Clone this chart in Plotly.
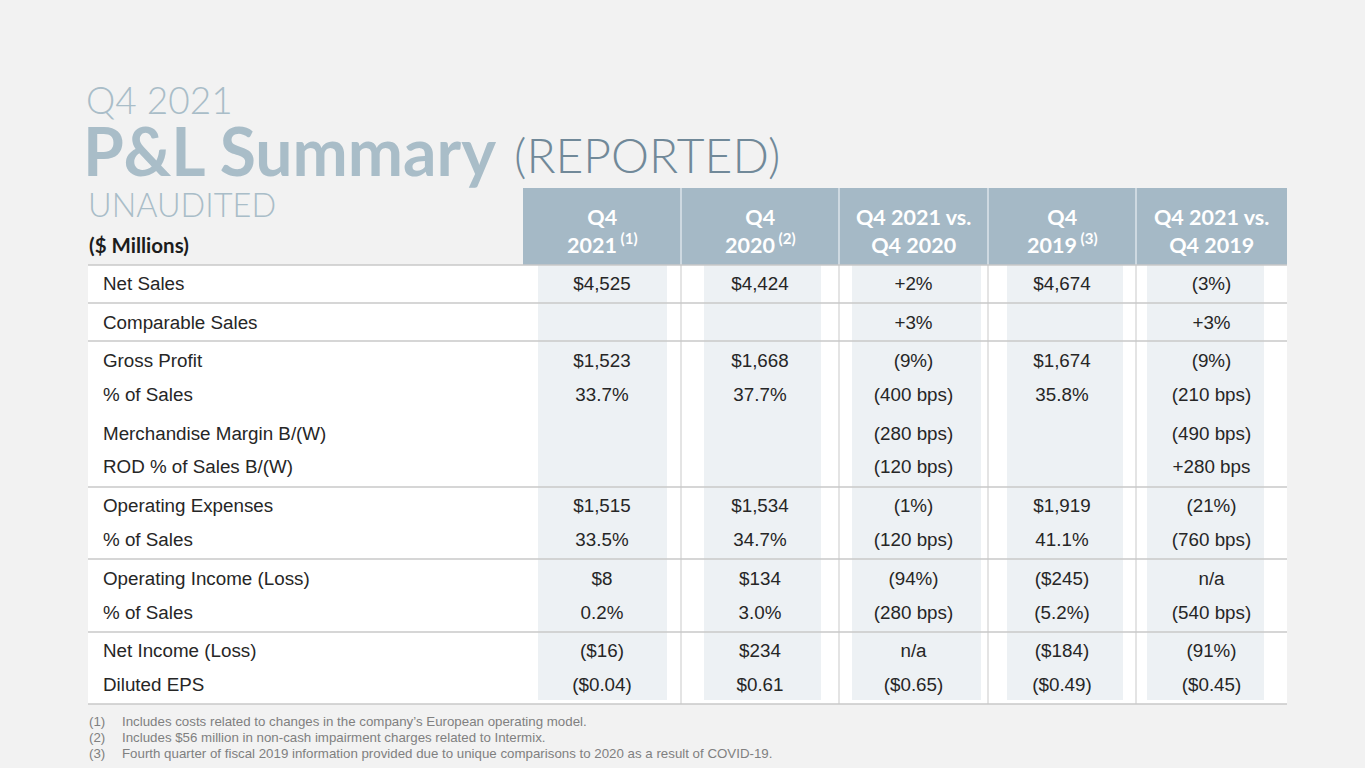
import plotly.graph_objects as go

# ---- data ----
row_labels = [
    "Net Sales", "Comparable Sales", "Gross Profit", "% of Sales",
    "Merchandise Margin B/(W)", "ROD % of Sales B/(W)", "Operating Expenses",
    "% of Sales", "Operating Income (Loss)", "% of Sales",
    "Net Income (Loss)", "Diluted EPS",
]
col_headers = [
    "Q4<br>2021<sup> (1)</sup>",
    "Q4<br>2020<sup> (2)</sup>",
    "Q4 2021 vs.<br>Q4 2020",
    "Q4<br>2019<sup> (3)</sup>",
    "Q4 2021 vs.<br>Q4 2019",
]
q4_2021 = ["$4,525", "", "$1,523", "33.7%", "", "", "$1,515", "33.5%", "$8", "0.2%", "($16)", "($0.04)"]
q4_2020 = ["$4,424", "", "$1,668", "37.7%", "", "", "$1,534", "34.7%", "$134", "3.0%", "$234", "$0.61"]
vs_2020 = ["+2%", "+3%", "(9%)", "(400 bps)", "(280 bps)", "(120 bps)", "(1%)", "(120 bps)", "(94%)", "(280 bps)", "n/a", "($0.65)"]
q4_2019 = ["$4,674", "", "$1,674", "35.8%", "", "", "$1,919", "41.1%", "($245)", "(5.2%)", "($184)", "($0.49)"]
vs_2019 = ["(3%)", "+3%", "(9%)", "(210 bps)", "(490 bps)", "+280 bps", "(21%)", "(760 bps)", "n/a", "(540 bps)", "(91%)", "($0.45)"]
footnotes = [
    ("(1)", "Includes costs related to changes in the company\u2019s European operating model."),
    ("(2)", "Includes $56 million in non-cash impairment charges related to Intermix."),
    ("(3)", "Fourth quarter of fiscal 2019 information provided due to unique comparisons to 2020 as a result of COVID-19."),
]

# ---- layout (pixel space) ----
BG = "#f2f2f2"
HEAD = "#a5b9c6"
STRIP = "#edf1f4"
LINE = "#c9c9c9"
TITLE_C = "#a9bdc8"
TXT = "#262626"
GEO = "Lato, 'Open Sans', sans-serif"
ARIAL = "'Liberation Sans', Arial, sans-serif"

row_y = [285.5, 324.5, 362.5, 396.5, 435.5, 468.5, 507.5, 541.5, 580.5, 614.5, 652.5, 686.5]
line_y = [303, 341, 487, 559, 632]
table_left, table_right = 88, 1287
body_top, body_bot = 265, 704
head_top = 188
col_edges = [523, 681, 839, 988, 1136, 1287]
strips = [(538, 667), (704, 821), (852, 981), (1007, 1123), (1147, 1264)]
col_centers = [(col_edges[i] + col_edges[i + 1]) / 2 for i in range(5)]

fig = go.Figure()
shapes = []

# white body
shapes.append(dict(type="rect", x0=table_left, x1=table_right, y0=body_top, y1=body_bot,
                   fillcolor="white", line_width=0, layer="below"))
# header block
shapes.append(dict(type="rect", x0=col_edges[0], x1=col_edges[-1], y0=head_top, y1=body_top,
                   fillcolor=HEAD, line_width=0, layer="below"))
# column strips
for x0, x1 in strips:
    shapes.append(dict(type="rect", x0=x0, x1=x1, y0=body_top, y1=body_bot - 4,
                       fillcolor=STRIP, line_width=0, layer="below"))
# header separators and body verticals
for x in col_edges[1:-1]:
    shapes.append(dict(type="line", x0=x, x1=x, y0=head_top, y1=body_top,
                       line=dict(color="#dde5ea", width=1.5)))
    shapes.append(dict(type="line", x0=x, x1=x, y0=body_top, y1=body_bot,
                       line=dict(color=LINE, width=1)))
# horizontal rules
for y in [body_top] + line_y + [body_bot]:
    shapes.append(dict(type="line", x0=table_left, x1=table_right, y0=y, y1=y,
                       line=dict(color=LINE, width=1.3)))

# row labels
fig.add_trace(go.Scatter(
    x=[103] * len(row_labels), y=row_y, text=row_labels, mode="text",
    textposition="middle right", textfont=dict(family=ARIAL, size=18.8, color=TXT),
    hoverinfo="skip", showlegend=False,
))
# values
for cx, vals in zip(col_centers, [q4_2021, q4_2020, vs_2020, q4_2019, vs_2019]):
    fig.add_trace(go.Scatter(
        x=[cx] * len(vals), y=row_y, text=vals, mode="text",
        textposition="middle center", textfont=dict(family=ARIAL, size=18.8, color=TXT),
        hoverinfo="skip", showlegend=False,
    ))

ann = []
# column headers
for cx, h in zip(col_centers, col_headers):
    ann.append(dict(x=cx, y=231, text=h, showarrow=False, xanchor="center", yanchor="middle",
                    font=dict(family=GEO, size=21.5, color="white", weight=700)))
# titles
ann.append(dict(x=84, y=99, text="Q4 2021", showarrow=False, xanchor="left", yanchor="middle",
                font=dict(family=GEO, size=37, color=TITLE_C, weight=300)))
ann.append(dict(x=81, y=150, text="P&amp;L Summary", showarrow=False, xanchor="left",
                yanchor="middle", font=dict(family=GEO, size=66, color=TITLE_C, weight=700)))
ann.append(dict(x=512, y=154, text="(REPORTED)", showarrow=False, xanchor="left",
                yanchor="middle", font=dict(family=GEO, size=48, color="#718999", weight=300)))
ann.append(dict(x=86, y=204, text="UNAUDITED", showarrow=False, xanchor="left", yanchor="middle",
                font=dict(family=GEO, size=32.5, color=TITLE_C, weight=300)))
ann.append(dict(x=87, y=245, text="($ Millions)", showarrow=False, xanchor="left",
                yanchor="middle", font=dict(family=GEO, size=20.5, color="#1c1c1c", weight=700)))
# footnotes
for i, (num, txt) in enumerate(footnotes):
    y = 721 + i * 16
    ann.append(dict(x=87, y=y, text=num, showarrow=False, xanchor="left", yanchor="middle",
                    font=dict(family=ARIAL, size=13.3, color="#808080")))
    ann.append(dict(x=120, y=y, text=txt, showarrow=False, xanchor="left", yanchor="middle",
                    font=dict(family=ARIAL, size=13.3, color="#808080")))

fig.update_layout(
    width=1365, height=768, margin=dict(l=0, r=0, t=0, b=0),
    paper_bgcolor=BG, plot_bgcolor=BG,
    xaxis=dict(range=[0, 1365], visible=False, fixedrange=True),
    yaxis=dict(range=[768, 0], visible=False, fixedrange=True),
    shapes=shapes, annotations=ann,
)

fig.write_html("out.html", config={"displayModeBar": False},
               post_script="document.body.style.margin='0';")
